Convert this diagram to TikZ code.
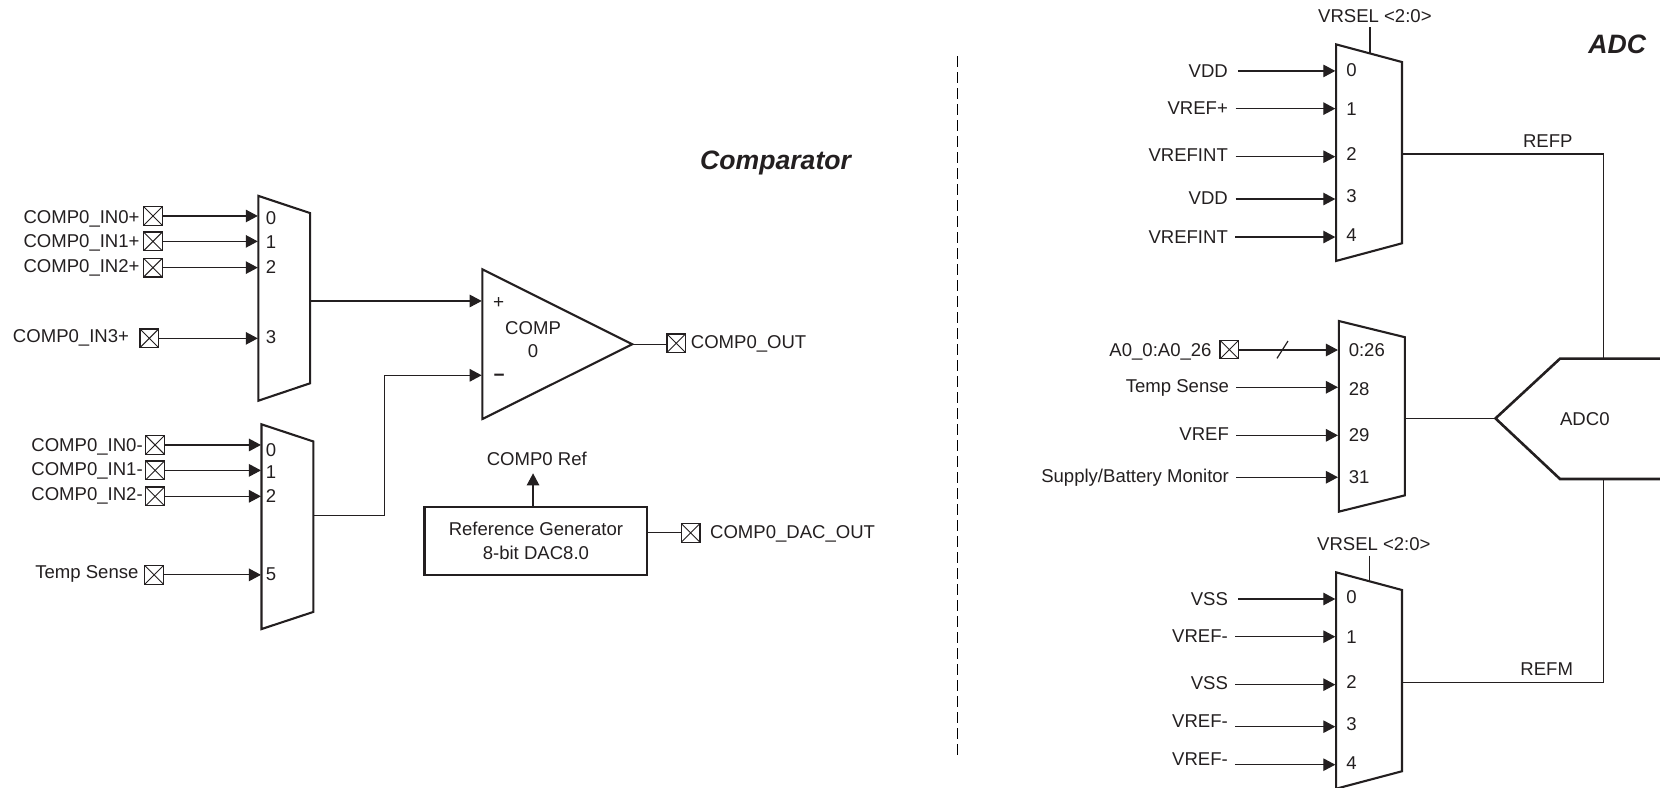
\documentclass[tikz,border=0pt]{standalone}
\usepackage{fontspec}
\setmainfont{Liberation Sans}
\usetikzlibrary{arrows.meta}
\definecolor{ink}{HTML}{231F20}
\tikzset{
  lbl/.style={inner sep=0pt,text height=13.1pt,text depth=0pt,text=ink,font=\fontsize{18.55}{22}\selectfont},
  muxbody/.style={draw=ink,line width=2.1pt,line join=miter},
  wire/.style={draw=ink,line width=1.2pt},
  arrowwire/.style={wire,-{Triangle[length=12pt,width=12.5pt]}},
  pinbox/.style={draw=ink,line width=1.2pt,minimum size=18.6pt,inner sep=0pt,fill=white,
    path picture={\draw[ink,line width=0.9pt] (path picture bounding box.north west)--(path picture bounding box.south east)
      (path picture bounding box.north east)--(path picture bounding box.south west);}},
  titletext/.style={inner sep=0pt,text=ink,font=\fontsize{26.6}{30}\bfseries\itshape\selectfont},
  thickbox/.style={draw=ink,line width=2.4pt,inner sep=0pt,text=ink,align=center,font=\fontsize{18.55}{23.3}\selectfont},
}
% label right-aligned: name, x, y, text
\newcommand{\rlab}[4]{\node[lbl,anchor=east] (#1) at (#2,#3) {#4};}
% label left-aligned
\newcommand{\llab}[4]{\node[lbl,anchor=west] (#1) at (#2,#3) {#4};}
% centred label
\newcommand{\clab}[4]{\node[lbl] (#1) at (#2,#3) {#4};}
% pin box
\newcommand{\pinb}[3]{\node[pinbox] (#1) at (#2,#3) {};}
\begin{document}
\begin{tikzpicture}[x=1.0587pt,y=-1.0587pt]
\useasboundingbox (0,0) rectangle (1568,744.3);
\clip (0,0) rectangle (1568,744.3);

%% ---------- Comparator, mux +
\draw[muxbody] (244,185)--(293,201.3)--(293,362)--(244,378.5)--cycle;
\foreach \n/\tx/\ty/\t/\py/\px/\lx/\ly in {%
  a/256/206/0/204/144.5/132/204.5,
  b/256/229/1/228/144.5/132/228,
  c/256/252/2/252.8/144.5/132/251.5,
  d/256/318/3/319.6/141/122/317.5}{
  \clab{ma\n t}{\tx}{\ty}{\t}
  \pinb{ma\n p}{\px}{\py}
  \coordinate (ma\n i) at (243.5,\py);
  \draw[arrowwire] (ma\n p.east)--(ma\n i);
}
\rlab{pa}{132}{204.5}{COMP0\_IN0+}
\rlab{pb}{132}{228}{COMP0\_IN1+}
\rlab{pc}{132}{251.5}{COMP0\_IN2+}
\rlab{pd}{122}{317}{COMP0\_IN3+}

%% ---------- Comparator, mux -
\draw[muxbody] (247,400.8)--(296,417)--(296,578)--(247,594.2)--cycle;
\foreach \n/\tx/\ty/\t/\py/\px in {%
  a/256/424.8/0/420.3/146.5,
  b/256/446/1/444.3/146.5,
  c/256/468/2/468.8/146.5,
  d/256/542/5/543/145.5}{
  \clab{mb\n t}{\tx}{\ty}{\t}
  \pinb{mb\n p}{\px}{\py}
  \coordinate (mb\n i) at (246.5,\py);
  \draw[arrowwire] (mb\n p.east)--(mb\n i);
}
\rlab{na}{135}{420.5}{COMP0\_IN0-}
\rlab{nb}{135}{443.2}{COMP0\_IN1-}
\rlab{nc}{135}{467}{COMP0\_IN2-}
\rlab{nd}{131}{540.5}{Temp Sense}

%% ---------- Comparator
\draw[muxbody] (455.6,254.4)--(597.2,325.2)--(455.6,395.8)--cycle;
\coordinate (cmpplus) at (455,284.3);
\coordinate (cmpminus) at (455,354.5);
\coordinate (cmpout) at (597.2,325.2);
\coordinate (muxaout) at (293,284.3);
\coordinate (muxbout) at (296,487);
\coordinate (bend) at (363.5,487);
\draw[arrowwire] (muxaout)--(cmpplus);
\draw[arrowwire] (muxbout)--(bend)--(bend|-cmpminus)--(cmpminus);
\node[lbl,font=\fontsize{19}{20}\selectfont] (plus) at (471,285) {+};
\node[lbl,font=\fontsize{19}{20}\bfseries\selectfont,text height=0pt] (minus) at (471.6,360) {\symbol{"2212}};
\clab{comptxt}{503.5}{310}{COMP}
\clab{compzero}{503.5}{331.3}{0}
\pinb{outp}{638.8}{324.2}
\draw[wire] (cmpout)--(cmpout-|outp.west);
\llab{outl}{652.4}{323.3}{COMP0\_OUT}

%% ---------- Reference generator
\node[thickbox,minimum width=210.4*1.0587pt,minimum height=64.2*1.0587pt] (refgen) at (506.2,511) {Reference Generator\\8-bit DAC8.0};
\clab{reflab}{507}{433.8}{COMP0 Ref}
\coordinate (reftip) at (503.5,447.1);
\draw[arrowwire] (reftip|-refgen.north)--(reftip);
\pinb{dacp}{652.4}{503.3}
\draw[wire] (refgen.east|-dacp)--(dacp.west);
\llab{dacl}{670.6}{502.8}{COMP0\_DAC\_OUT}

%% ---------- titles and divider
\node[titletext,anchor=east] (ttl1) at (804,153.5) {Comparator};
\node[titletext,anchor=east] (ttl2) at (1555,42) {ADC};
\coordinate (divtop) at (904.7,53);
\coordinate (divbot) at (904.7,713);
\draw[black,line width=1.25pt,dash pattern=on 10.4pt off 5.6pt] (divtop)--(divbot);

%% ---------- ADC top mux
\draw[muxbody] (1262,41.9)--(1324.3,58.6)--(1324.3,229.8)--(1262,246.5)--cycle;
\foreach \n/\t/\ty/\py/\sx/\ly/\l in {%
  a/0/65.8/67/1169.2/67.4/VDD,
  b/1/103/102.6/1167.2/101.7/VREF+,
  c/2/145.8/148/1167.2/146.7/VREFINT,
  d/3/185.4/188/1167.2/186.7/VDD,
  e/4/222.3/223.9/1166.7/223.5/VREFINT}{
  \clab{t\n t}{1276.5}{\ty}{\t}
  \rlab{t\n l}{1160}{\ly}{\l}
  \coordinate (t\n s) at (\sx,\py);
  \coordinate (t\n i) at (1261.3,\py);
  \draw[arrowwire] (t\n s)--(t\n i);
}
\clab{vrselt}{1298.7}{14.8}{VRSEL <2:0>}
\coordinate (vta) at (1294,25.8);
\coordinate (vtb) at (1294,50.7);
\draw[wire] (vta)--(vtb);
\clab{refp}{1462}{133.5}{REFP}

%% ---------- ADC middle mux
\draw[muxbody] (1264.6,303.2)--(1327,318.5)--(1327,467.9)--(1264.6,483.3)--cycle;
\llab{m0}{1273.8}{330.9}{0:26}
\llab{m1}{1273.8}{367.4}{28}
\llab{m2}{1273.8}{411.2}{29}
\llab{m3}{1273.8}{450.6}{31}
\rlab{ml0}{1144.6}{330.6}{A0\_0:A0\_26}
\rlab{ml1}{1161}{364.2}{Temp Sense}
\rlab{ml2}{1161}{410.2}{VREF}
\rlab{ml3}{1161}{449.3}{Supply/Battery Monitor}
\pinb{amp}{1161.2}{330.2}
\coordinate (mi0) at (1263.8,330.6);
\coordinate (mi1) at (1263.8,365.8);
\coordinate (mi2) at (1263.8,411.2);
\coordinate (mi3) at (1263.8,450.8);
\coordinate (ms1) at (1167.7,365.8);
\coordinate (ms2) at (1167.7,411.2);
\coordinate (ms3) at (1167.7,450.8);
\draw[arrowwire] (amp.east|-mi0)--(mi0);
\draw[arrowwire] (ms1)--(mi1);
\draw[arrowwire] (ms2)--(mi2);
\draw[arrowwire] (ms3)--(mi3);
\coordinate (sla) at (1206.2,338.5);
\coordinate (slb) at (1216.6,322.1);
\draw[wire] (sla)--(slb);

%% ---------- ADC0
\draw[ink,line width=2.6pt,line join=miter] (1600,338.8)--(1473.5,338.8)--(1412.6,395.2)--(1473.5,452.4)--(1600,452.4);
\coordinate (adctip) at (1412.6,395.2);
\coordinate (adctop) at (1514.7,338.8);
\coordinate (adcbot) at (1514.7,452.4);
\clab{adctxt}{1497}{396}{ADC0}
\coordinate (mmout) at (1327,395.2);
\draw[wire] (mmout)--(adctip);
\coordinate (tmout) at (1324.3,145.5);
\coordinate (bmout) at (1324.3,644.5);
\draw[wire] (tmout)--(adctop|-tmout)--(adctop);
\draw[wire] (bmout)--(adcbot|-bmout)--(adcbot);

%% ---------- ADC bottom mux
\draw[muxbody] (1262,540.6)--(1324.3,557.3)--(1324.3,728.5)--(1262,745)--cycle;
\foreach \n/\t/\ty/\py/\sx/\ly/\l in {%
  a/0/564.2/565.8/1169.4/566/VSS,
  b/1/602/601.4/1167/600.5/VREF-,
  c/2/644.5/646.7/1167/645.4/VSS,
  d/3/683.5/686.4/1167/680.7/VREF-,
  e/4/720.7/722.3/1166.5/716.9/VREF-}{
  \clab{b\n t}{1276.5}{\ty}{\t}
  \rlab{b\n l}{1160}{\ly}{\l}
  \coordinate (b\n s) at (\sx,\py);
  \coordinate (b\n i) at (1261.3,\py);
  \draw[arrowwire] (b\n s)--(b\n i);
}
\clab{vrselb}{1297.7}{514.2}{VRSEL <2:0>}
\coordinate (vba) at (1293.6,524.8);
\coordinate (vbb) at (1293.6,549.5);
\draw[wire] (vba)--(vbb);
\clab{refm}{1461}{632}{REFM}
\end{tikzpicture}
\end{document}
